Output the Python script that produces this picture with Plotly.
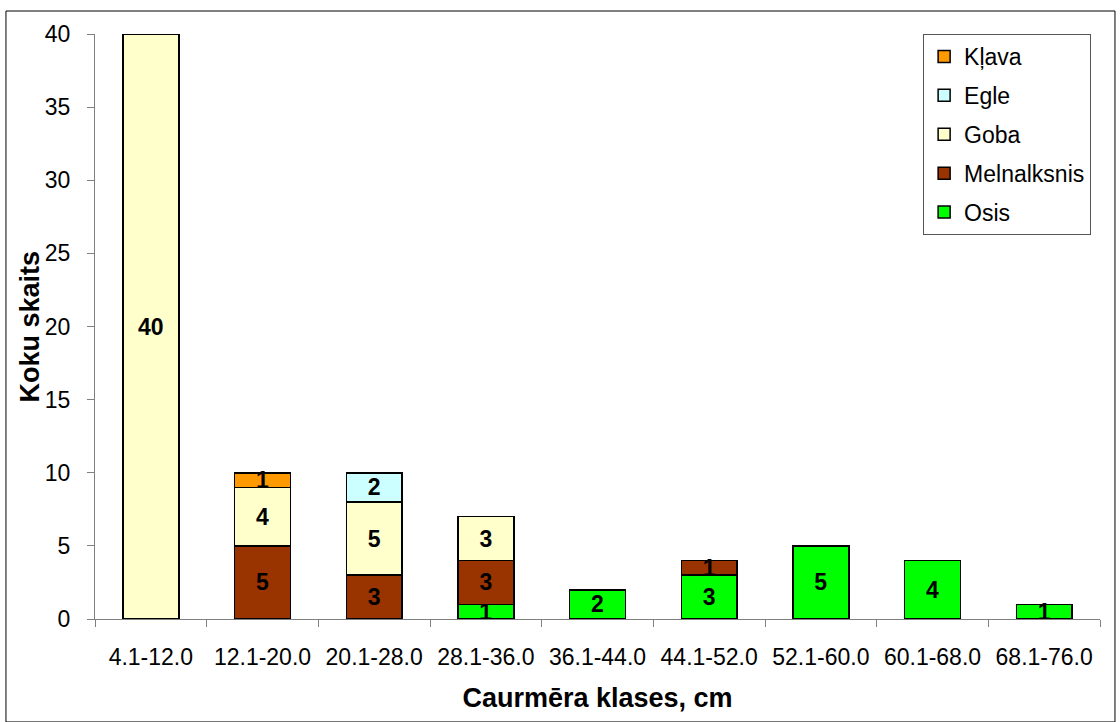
import plotly.graph_objects as go

# Diameter classes and tree counts per species
classes = ["4.1-12.0", "12.1-20.0", "20.1-28.0", "28.1-36.0", "36.1-44.0",
           "44.1-52.0", "52.1-60.0", "60.1-68.0", "68.1-76.0"]
osis = [0, 0, 0, 1, 2, 3, 5, 4, 1]
melnalksnis = [0, 5, 3, 3, 0, 1, 0, 0, 0]
goba = [40, 4, 5, 3, 0, 0, 0, 0, 0]
egle = [0, 0, 2, 0, 0, 0, 0, 0, 0]
klava = [0, 1, 0, 0, 0, 0, 0, 0, 0]

# stacked bottom to top; legend lists them top to bottom
series = [
    ("Osis", osis, "#00FF00", 5),
    ("Melnalksnis", melnalksnis, "#993300", 4),
    ("Goba", goba, "#FFFFCC", 3),
    ("Egle", egle, "#CCFFFF", 2),
    ("Kļava", klava, "#FF9900", 1),
]

FONT = "Liberation Sans, Arial, sans-serif"

fig = go.Figure()
for name, vals, color, rank in series:
    fig.add_trace(go.Bar(
        name=name,
        x=classes,
        y=[v if v else None for v in vals],
        marker=dict(color=color, line=dict(color="black", width=1.5)),
        text=[str(v) if v else "" for v in vals],
        textposition="inside",
        insidetextanchor="middle",
        constraintext="none",
        textangle=0,
        textfont=dict(family=FONT, size=23, color="black", weight="bold"),
        legendgroup=name,
        legendrank=rank,
        hoverinfo="skip",
    ))

fig.update_layout(
    barmode="stack",
    bargap=0.5,
    width=1120,
    height=722,
    margin=dict(l=95, r=20, t=34, b=103),
    paper_bgcolor="white",
    plot_bgcolor="white",
    font=dict(family=FONT, size=23, color="black"),
    showlegend=True,
    legend=dict(
        x=0.824, y=1.0, xanchor="left", yanchor="top",
        traceorder="grouped",
        tracegroupgap=6,
        bordercolor="#555555", borderwidth=1,
        bgcolor="white",
        font=dict(family=FONT, size=23, color="black"),
    ),
    xaxis=dict(
        type="category",
        showline=True, linecolor="#808080", linewidth=1,
        ticks="outside", tickson="boundaries", ticklen=7, tickcolor="#808080",
        ticklabelstandoff=17,
        showgrid=False, zeroline=False,
        tickfont=dict(family=FONT, size=23),
        title=dict(text="Caurmēra klases, cm", standoff=19,
                   font=dict(family=FONT, size=27, weight="bold")),
    ),
    yaxis=dict(
        range=[0, 40],
        tickvals=[0, 5, 10, 15, 20, 25, 30, 35, 40],
        showline=True, linecolor="#808080", linewidth=1,
        ticks="outside", ticklen=7, tickcolor="#808080",
        ticklabelstandoff=12,
        showgrid=False, zeroline=False,
        tickfont=dict(family=FONT, size=23),
    ),
    annotations=[dict(
        text="<b>Koku skaits</b>", textangle=-90,
        xref="paper", yref="paper", x=-0.0647, y=0.5,
        xanchor="center", yanchor="middle", showarrow=False,
        font=dict(family=FONT, size=27, color="black"),
    )],
    shapes=[dict(
        type="rect", xref="paper", yref="paper",
        x0=-0.0886, x1=1.0149, y0=-0.176, y1=1.0393,
        line=dict(color="black", width=1), fillcolor="rgba(0,0,0,0)",
        layer="below",
    )],
)

fig.write_html("out.html")
